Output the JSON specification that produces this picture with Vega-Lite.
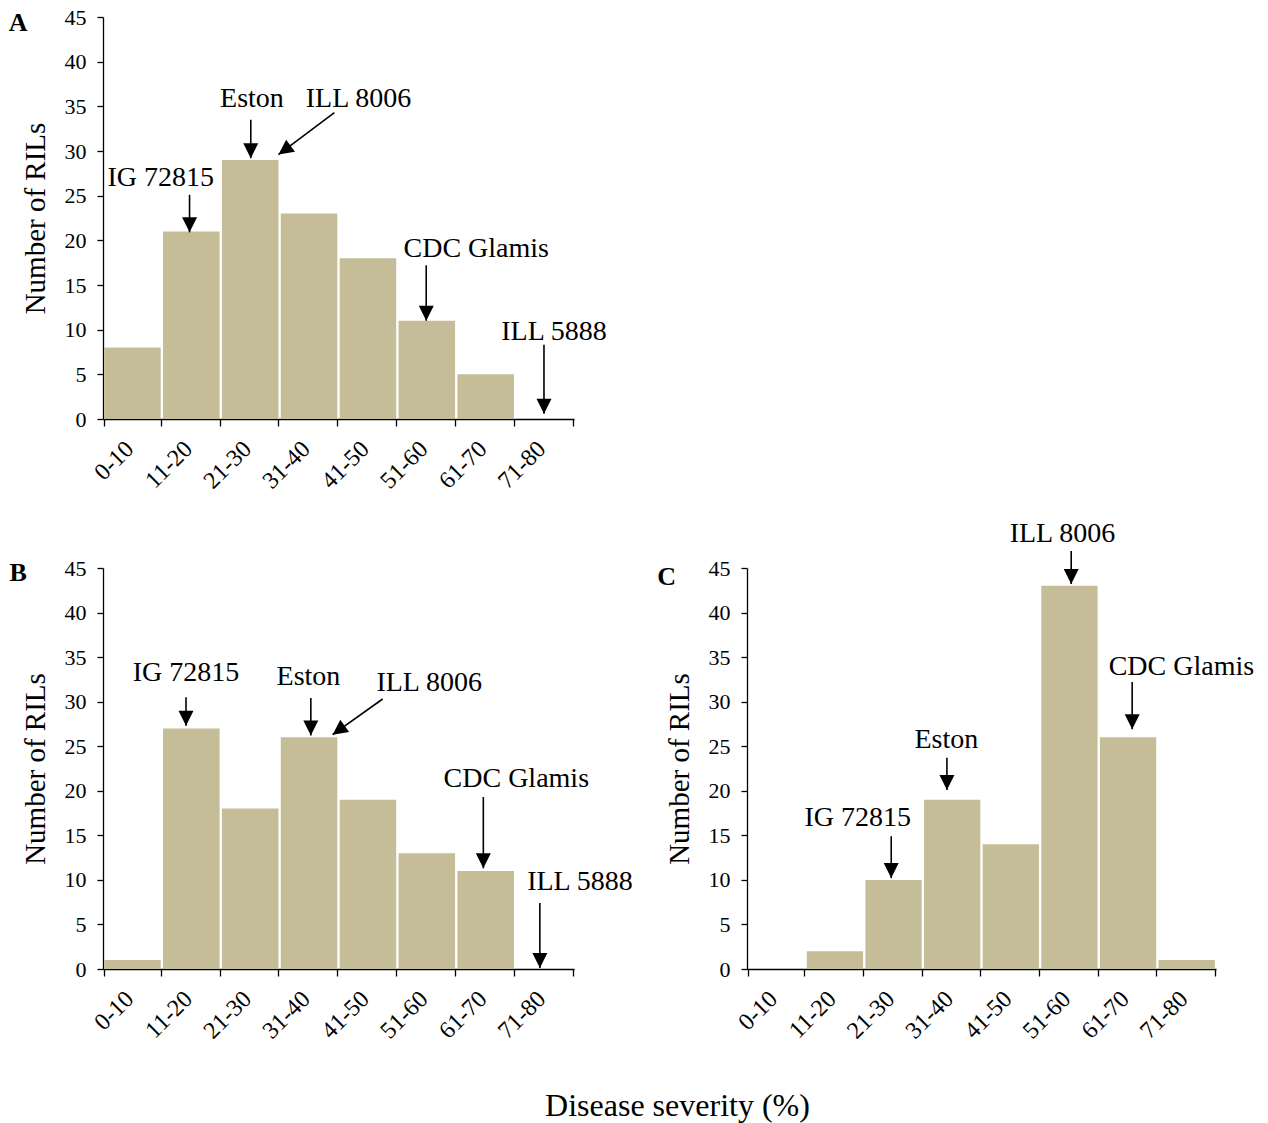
{
  "$schema": "https://vega.github.io/schema/vega-lite/v6.json",
  "padding": {"left": 8, "top": 6, "right": 5, "bottom": 0},
  "background": "white",
  "bounds": "flush",
  "spacing": 149,
  "title": {"text": "Disease severity (%)", "orient": "bottom", "anchor": "middle", "font": "Liberation Serif", "fontSize": 32, "fontWeight": "normal", "color": "black", "offset": 48, "dx": 46},
  "datasets": {
    "barsA": [
      {"bin": "0-10", "n": 8}, {"bin": "11-20", "n": 21}, {"bin": "21-30", "n": 29}, {"bin": "31-40", "n": 23},
      {"bin": "41-50", "n": 18}, {"bin": "51-60", "n": 11}, {"bin": "61-70", "n": 5}, {"bin": "71-80", "n": 0}
    ],
    "barsB": [
      {"bin": "0-10", "n": 1}, {"bin": "11-20", "n": 27}, {"bin": "21-30", "n": 18}, {"bin": "31-40", "n": 26},
      {"bin": "41-50", "n": 19}, {"bin": "51-60", "n": 13}, {"bin": "61-70", "n": 11}, {"bin": "71-80", "n": 0}
    ],
    "barsC": [
      {"bin": "0-10", "n": 0}, {"bin": "11-20", "n": 2}, {"bin": "21-30", "n": 10}, {"bin": "31-40", "n": 19},
      {"bin": "41-50", "n": 14}, {"bin": "51-60", "n": 43}, {"bin": "61-70", "n": 26}, {"bin": "71-80", "n": 1}
    ],
    "annA": [
      {"label": "IG 72815", "tx": 0.98, "ty": 27.0, "x1": 1.47, "y1": 25.1, "x2": 1.47, "y2": 20.9, "dir": "down"},
      {"label": "Eston", "tx": 2.53, "ty": 35.8, "x1": 2.51, "y1": 33.5, "x2": 2.51, "y2": 29.2, "dir": "down"},
      {"label": "ILL 8006", "tx": 4.34, "ty": 35.8, "x1": 3.93, "y1": 34.3, "x2": 2.98, "y2": 29.6, "dir": "diag"},
      {"label": "CDC Glamis", "tx": 6.34, "ty": 19.0, "x1": 5.49, "y1": 17.2, "x2": 5.49, "y2": 11.0, "dir": "down"},
      {"label": "ILL 5888", "tx": 7.66, "ty": 9.7, "x1": 7.49, "y1": 8.3, "x2": 7.49, "y2": 0.6, "dir": "down"}
    ],
    "annB": [
      {"label": "IG 72815", "tx": 1.41, "ty": 33.2, "x1": 1.41, "y1": 30.5, "x2": 1.41, "y2": 27.3, "dir": "down"},
      {"label": "Eston", "tx": 3.49, "ty": 32.8, "x1": 3.53, "y1": 30.4, "x2": 3.53, "y2": 26.2, "dir": "down"},
      {"label": "ILL 8006", "tx": 5.54, "ty": 32.1, "x1": 4.75, "y1": 30.3, "x2": 3.9, "y2": 26.3, "dir": "diag"},
      {"label": "CDC Glamis", "tx": 7.02, "ty": 21.3, "x1": 6.46, "y1": 19.3, "x2": 6.46, "y2": 11.3, "dir": "down"},
      {"label": "ILL 5888", "tx": 8.1, "ty": 9.8, "x1": 7.42, "y1": 7.4, "x2": 7.42, "y2": 0.1, "dir": "down"}
    ],
    "annC": [
      {"label": "IG 72815", "tx": 1.89, "ty": 16.95, "x1": 2.46, "y1": 14.9, "x2": 2.46, "y2": 10.2, "dir": "down"},
      {"label": "Eston", "tx": 3.4, "ty": 25.7, "x1": 3.41, "y1": 23.7, "x2": 3.41, "y2": 20.1, "dir": "down"},
      {"label": "ILL 8006", "tx": 5.38, "ty": 48.8, "x1": 5.53, "y1": 46.9, "x2": 5.53, "y2": 43.2, "dir": "down"},
      {"label": "CDC Glamis", "tx": 7.41, "ty": 33.9, "x1": 6.57, "y1": 32.2, "x2": 6.57, "y2": 26.9, "dir": "down"}
    ],
    "lettA": [{"letter": "A", "lx": -1.44, "ly": 44.3}],
    "lettB": [{"letter": "B", "lx": -1.44, "ly": 44.4}],
    "lettC": [{"letter": "C", "lx": -1.37, "ly": 44.0}]
  },
  "vconcat": [
    {
      "width": 471, "height": 402,
      "layer": [
        {
          "data": {"name": "barsA"},
          "mark": {"type": "bar", "color": "#C4BD97"},
          "encoding": {
            "x": {"field": "bin", "type": "nominal", "sort": null, "scale": {"paddingInner": 0.04, "paddingOuter": 0.02},
                  "axis": {"title": null, "labelAngle": -45, "labelAlign": "right", "labelBaseline": "middle", "labelOffset": -3, "labelFontSize": 24, "tickBand": "extent", "tickSize": 7, "labelPadding": 19}},
            "y": {"field": "n", "type": "quantitative", "scale": {"domain": [0, 45]},
                  "axis": {"title": "Number of RILs", "values": [0,5,10,15,20,25,30,35,40,45], "tickSize": 6, "labelPadding": 11, "titlePadding": 14}}
          }
        },
        {
          "data": {"name": "annA"},
          "layer": [
            {"mark": {"type": "rule", "color": "black", "strokeWidth": 1.6},
             "encoding": {"x": {"field": "x1", "type": "quantitative", "scale": {"domain": [0, 8], "nice": false, "zero": false}, "axis": null},
                          "x2": {"field": "x2"},
                          "y": {"field": "y1", "type": "quantitative", "scale": {"domain": [0, 45]}, "title": "Number of RILs"},
                          "y2": {"field": "y2"}}},
            {"transform": [{"filter": "datum.dir === 'down'"}],
             "mark": {"type": "point", "shape": "M0,0L-0.5,-1L0.5,-1Z", "filled": true, "color": "black", "opacity": 1, "size": 900},
             "encoding": {"x": {"field": "x2", "type": "quantitative", "scale": {"domain": [0, 8], "nice": false, "zero": false}, "axis": null},
                          "y": {"field": "y2", "type": "quantitative", "scale": {"domain": [0, 45]}, "title": "Number of RILs"}}},
            {"transform": [{"filter": "datum.dir === 'diag'"}],
             "mark": {"type": "point", "shape": "M0,0L-0.5,-1L0.5,-1Z", "filled": true, "color": "black", "opacity": 1, "size": 900, "angle": 54},
             "encoding": {"x": {"field": "x2", "type": "quantitative", "scale": {"domain": [0, 8], "nice": false, "zero": false}, "axis": null},
                          "y": {"field": "y2", "type": "quantitative", "scale": {"domain": [0, 45]}, "title": "Number of RILs"}}},
            {"mark": {"type": "text", "font": "Liberation Serif", "fontSize": 28, "color": "black", "align": "center", "baseline": "middle"},
             "encoding": {"x": {"field": "tx", "type": "quantitative", "scale": {"domain": [0, 8], "nice": false, "zero": false}, "axis": null},
                          "y": {"field": "ty", "type": "quantitative", "scale": {"domain": [0, 45]}, "title": "Number of RILs"},
                          "text": {"field": "label"}}},
            {"data": {"name": "lettA"},
             "mark": {"type": "text", "font": "Liberation Serif", "fontSize": 26, "fontWeight": "bold", "color": "black", "align": "center", "baseline": "middle"},
             "encoding": {"x": {"field": "lx", "type": "quantitative", "scale": {"domain": [0, 8], "nice": false, "zero": false}, "axis": null},
                          "y": {"field": "ly", "type": "quantitative", "scale": {"domain": [0, 45]}, "title": "Number of RILs"},
                          "text": {"field": "letter"}}}
          ]
        }
      ],
      "resolve": {"scale": {"x": "independent"}, "axis": {"x": "independent"}}
    },
    {
      "hconcat": [
        {
          "width": 471, "height": 401,
          "layer": [
            {
              "data": {"name": "barsB"},
              "mark": {"type": "bar", "color": "#C4BD97"},
              "encoding": {
                "x": {"field": "bin", "type": "nominal", "sort": null, "scale": {"paddingInner": 0.04, "paddingOuter": 0.02},
                      "axis": {"title": null, "labelAngle": -45, "labelAlign": "right", "labelBaseline": "middle", "labelOffset": -3, "labelFontSize": 24, "tickBand": "extent", "tickSize": 7, "labelPadding": 19}},
                "y": {"field": "n", "type": "quantitative", "scale": {"domain": [0, 45]},
                      "axis": {"title": "Number of RILs", "values": [0,5,10,15,20,25,30,35,40,45], "tickSize": 6, "labelPadding": 11, "titlePadding": 14}}
              }
            },
            {
              "data": {"name": "annB"},
              "layer": [
                {"mark": {"type": "rule", "color": "black", "strokeWidth": 1.6},
                 "encoding": {"x": {"field": "x1", "type": "quantitative", "scale": {"domain": [0, 8], "nice": false, "zero": false}, "axis": null},
                              "x2": {"field": "x2"},
                              "y": {"field": "y1", "type": "quantitative", "scale": {"domain": [0, 45]}, "title": "Number of RILs"},
                              "y2": {"field": "y2"}}},
                {"transform": [{"filter": "datum.dir === 'down'"}],
                 "mark": {"type": "point", "shape": "M0,0L-0.5,-1L0.5,-1Z", "filled": true, "color": "black", "opacity": 1, "size": 900},
                 "encoding": {"x": {"field": "x2", "type": "quantitative", "scale": {"domain": [0, 8], "nice": false, "zero": false}, "axis": null},
                              "y": {"field": "y2", "type": "quantitative", "scale": {"domain": [0, 45]}, "title": "Number of RILs"}}},
                {"transform": [{"filter": "datum.dir === 'diag'"}],
                 "mark": {"type": "point", "shape": "M0,0L-0.5,-1L0.5,-1Z", "filled": true, "color": "black", "opacity": 1, "size": 900, "angle": 54},
                 "encoding": {"x": {"field": "x2", "type": "quantitative", "scale": {"domain": [0, 8], "nice": false, "zero": false}, "axis": null},
                              "y": {"field": "y2", "type": "quantitative", "scale": {"domain": [0, 45]}, "title": "Number of RILs"}}},
                {"mark": {"type": "text", "font": "Liberation Serif", "fontSize": 28, "color": "black", "align": "center", "baseline": "middle"},
                 "encoding": {"x": {"field": "tx", "type": "quantitative", "scale": {"domain": [0, 8], "nice": false, "zero": false}, "axis": null},
                              "y": {"field": "ty", "type": "quantitative", "scale": {"domain": [0, 45]}, "title": "Number of RILs"},
                              "text": {"field": "label"}}},
                {"data": {"name": "lettB"},
                 "mark": {"type": "text", "font": "Liberation Serif", "fontSize": 26, "fontWeight": "bold", "color": "black", "align": "center", "baseline": "middle"},
                 "encoding": {"x": {"field": "lx", "type": "quantitative", "scale": {"domain": [0, 8], "nice": false, "zero": false}, "axis": null},
                              "y": {"field": "ly", "type": "quantitative", "scale": {"domain": [0, 45]}, "title": "Number of RILs"},
                              "text": {"field": "letter"}}}
              ]
            }
          ],
          "resolve": {"scale": {"x": "independent"}, "axis": {"x": "independent"}}
        },
        {
          "width": 469, "height": 401,
          "layer": [
            {
              "data": {"name": "barsC"},
              "mark": {"type": "bar", "color": "#C4BD97"},
              "encoding": {
                "x": {"field": "bin", "type": "nominal", "sort": null, "scale": {"paddingInner": 0.04, "paddingOuter": 0.02},
                      "axis": {"title": null, "labelAngle": -45, "labelAlign": "right", "labelBaseline": "middle", "labelOffset": -3, "labelFontSize": 24, "tickBand": "extent", "tickSize": 7, "labelPadding": 19}},
                "y": {"field": "n", "type": "quantitative", "scale": {"domain": [0, 45]},
                      "axis": {"title": "Number of RILs", "values": [0,5,10,15,20,25,30,35,40,45], "tickSize": 6, "labelPadding": 11, "titlePadding": 14}}
              }
            },
            {
              "data": {"name": "annC"},
              "layer": [
                {"mark": {"type": "rule", "color": "black", "strokeWidth": 1.6},
                 "encoding": {"x": {"field": "x1", "type": "quantitative", "scale": {"domain": [0, 8], "nice": false, "zero": false}, "axis": null},
                              "x2": {"field": "x2"},
                              "y": {"field": "y1", "type": "quantitative", "scale": {"domain": [0, 45]}, "title": "Number of RILs"},
                              "y2": {"field": "y2"}}},
                {"mark": {"type": "point", "shape": "M0,0L-0.5,-1L0.5,-1Z", "filled": true, "color": "black", "opacity": 1, "size": 900},
                 "encoding": {"x": {"field": "x2", "type": "quantitative", "scale": {"domain": [0, 8], "nice": false, "zero": false}, "axis": null},
                              "y": {"field": "y2", "type": "quantitative", "scale": {"domain": [0, 45]}, "title": "Number of RILs"}}},
                {"mark": {"type": "text", "font": "Liberation Serif", "fontSize": 28, "color": "black", "align": "center", "baseline": "middle"},
                 "encoding": {"x": {"field": "tx", "type": "quantitative", "scale": {"domain": [0, 8], "nice": false, "zero": false}, "axis": null},
                              "y": {"field": "ty", "type": "quantitative", "scale": {"domain": [0, 45]}, "title": "Number of RILs"},
                              "text": {"field": "label"}}},
                {"data": {"name": "lettC"},
                 "mark": {"type": "text", "font": "Liberation Serif", "fontSize": 26, "fontWeight": "bold", "color": "black", "align": "center", "baseline": "middle"},
                 "encoding": {"x": {"field": "lx", "type": "quantitative", "scale": {"domain": [0, 8], "nice": false, "zero": false}, "axis": null},
                              "y": {"field": "ly", "type": "quantitative", "scale": {"domain": [0, 45]}, "title": "Number of RILs"},
                              "text": {"field": "letter"}}}
              ]
            }
          ],
          "resolve": {"scale": {"x": "independent"}, "axis": {"x": "independent"}}
        }
      ],
      "spacing": 173,
      "bounds": "flush"
    }
  ],
  "config": {
    "view": {"stroke": null},
    "font": "Liberation Serif",
    "axis": {
      "labelFont": "Liberation Serif", "titleFont": "Liberation Serif",
      "labelFontSize": 22, "titleFontSize": 29, "titleFontWeight": "normal",
      "labelColor": "black", "titleColor": "black", "domainColor": "black", "tickColor": "black",
      "domainWidth": 1.3, "tickWidth": 1.3, "grid": false
    }
  }
}
